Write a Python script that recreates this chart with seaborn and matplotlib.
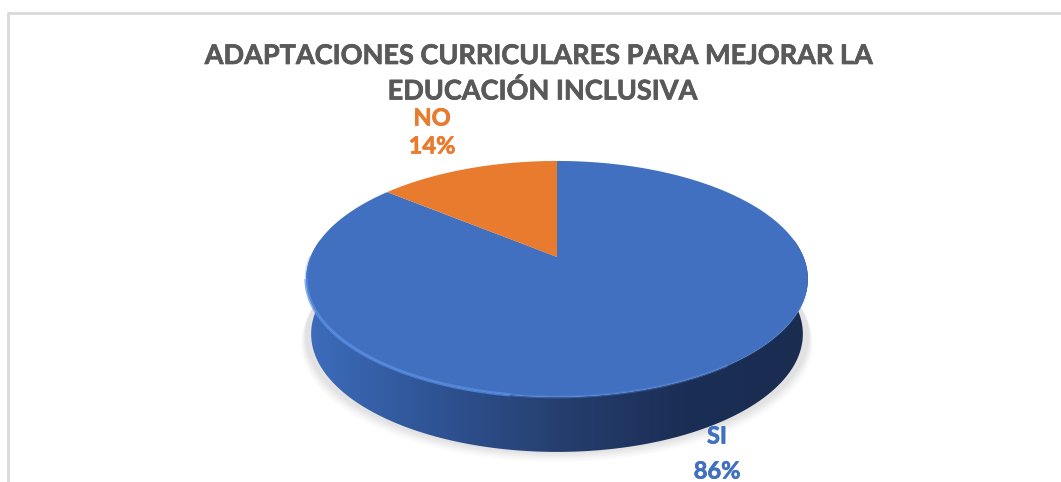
import numpy as np
import seaborn as sns
from matplotlib import pyplot as plt
from matplotlib.patches import Polygon
import matplotlib.patheffects as pe

categories = ["SI", "NO"]
values = [86, 14]
title_lines = ["ADAPTACIONES CURRICULARES PARA MEJORAR LA", "EDUCACIÓN INCLUSIVA"]

sns.set_theme(style="white")
plt.rcParams['font.family'] = ['Lato', 'DejaVu Sans']

top_color = "#4270c0"
no_color = "#e97b2f"
title_color = "#595959"
border_color = "#d9d9d9"

# where the pie centre ends up in pixels, and the tilt of the 3d view
cx, cy = 557, 257
sx, sy, tilt = 246.5, 113.9, 0.186
depth = 55


def project(theta):
    # theta in radians, clockwise from the top of the pie
    w = 1 + tilt * np.cos(theta)
    return cx + sx * np.sin(theta) / w, cy - sy * np.cos(theta) / w


def main():
    fig = plt.figure(figsize=(10.61, 4.82), dpi=100)
    ax = fig.add_axes([0, 0, 1, 1])
    ax.set_xlim(0, 1061)
    ax.set_ylim(482, 0)
    ax.axis("off")

    # frame, only top and left are visible
    ax.plot([8, 8, 1061], [482, 13, 13], color=border_color, lw=2)

    t = np.linspace(0, 2 * np.pi, 400)
    ex, ey = project(t)

    # soft shadow below the disc
    for grow, alpha in zip([10, 8, 6, 4, 2], [0.03, 0.04, 0.05, 0.05, 0.06]):
        ax.fill(cx + (ex - cx) * (1 + grow / 500), ey + depth + grow,
                color="#808080", alpha=alpha, lw=0)

    # side wall
    order_top = np.linspace(np.pi / 2 - 0.15, 3 * np.pi / 2 + 0.15, 200)
    tx, ty = project(order_top)
    bx = cx + (tx - cx) * 0.98
    by = ty + depth
    wall = Polygon(np.c_[np.r_[tx, bx[::-1]], np.r_[ty, by[::-1]]],
                   closed=True, transform=ax.transData, fc="none", ec="none")
    ax.add_patch(wall)
    cmap = sns.blend_palette(["#3d6dbd", "#2f5495", "#263f70", "#1b2e55", "#1a2c50"],
                             as_cmap=True)
    # wall colour runs from the light left side to the dark right side
    im = ax.imshow(np.linspace(0, 1, 256)[None, :], cmap=cmap, aspect="auto",
                   extent=[305, 809, 480, 200], zorder=2)
    im.set_clip_path(wall)
    ax.set_xlim(0, 1061)
    ax.set_ylim(482, 0)

    # top face, one slice per value
    edges = np.cumsum([0] + values) / sum(values) * 2 * np.pi
    colors = [top_color, no_color]
    for start, stop, color in zip(edges[:-1], edges[1:], colors):
        a = np.linspace(start, stop, 300)
        x, y = project(a)
        ax.fill(np.r_[cx, x], np.r_[cy, y], color=color, lw=0, zorder=3)

    # bevel along the front edge, fades out at both ends
    for a0, a1, lw, alpha in [(np.pi * 1.05, np.pi * 1.44, 2.5, 0.7),
                              (np.pi * 1.44, np.pi * 1.5, 2.0, 0.35),
                              (np.pi * 0.8, np.pi * 1.05, 2.0, 0.4),
                              (np.pi * 0.6, np.pi * 0.8, 1.5, 0.15)]:
        x, y = project(np.linspace(a0, a1, 120))
        ax.plot(x, y, color="#5a90e6", lw=lw, alpha=alpha, zorder=4,
                solid_capstyle="butt")

    # title, lato bold is a bit thin compared with the original so thicken it
    thick = [pe.withStroke(linewidth=0.5, foreground=title_color)]
    ax.text(539, 56, title_lines[0], ha="center", va="center", fontsize=19.5,
            fontweight="bold", color=title_color, path_effects=thick)
    ax.text(542.5, 91, title_lines[1], ha="center", va="center", fontsize=19.5,
            fontweight="bold", color=title_color, path_effects=thick)

    # data labels
    no_thick = [pe.withStroke(linewidth=0.5, foreground=no_color)]
    si_thick = [pe.withStroke(linewidth=0.5, foreground=top_color)]
    ax.text(432, 118, categories[1], ha="center", va="center", fontsize=17,
            fontweight="bold", color=no_color, path_effects=no_thick)
    ax.text(432, 146, f"{values[1]}%", ha="center", va="center", fontsize=17,
            fontweight="bold", color=no_color, path_effects=no_thick)
    ax.text(717, 436, categories[0], ha="center", va="center", fontsize=17,
            fontweight="bold", color=top_color, path_effects=si_thick)
    ax.text(717, 471, f"{values[0]}%", ha="center", va="center", fontsize=17,
            fontweight="bold", color=top_color, path_effects=si_thick)

    fig.savefig("out.png", dpi=100, facecolor="white")


if __name__ == "__main__":
    main()
